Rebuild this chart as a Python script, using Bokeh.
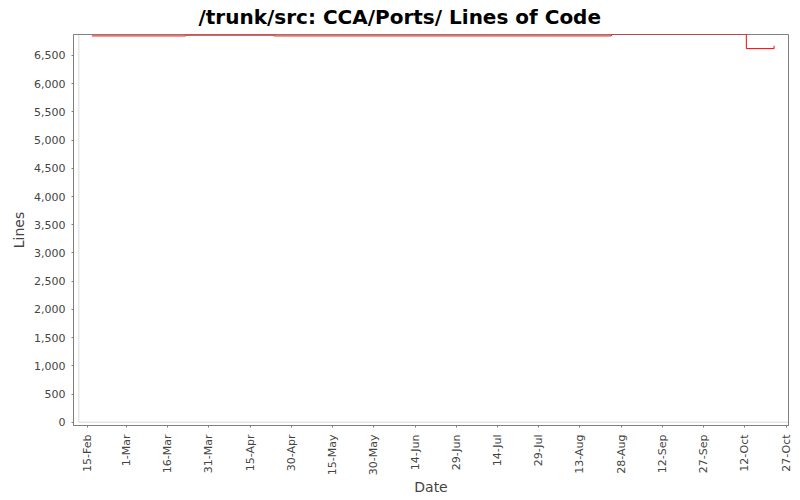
import math
import pandas as pd
from bokeh.plotting import figure
from bokeh.models import FixedTicker, NumeralTickFormatter, BoxAnnotation, Range1d
from bokeh.embed import file_html
from bokeh.resources import INLINE

# ---- data ----
commit_dates = ["2006-02-16 11:00", "2006-03-22 14:00", "2006-04-23 19:00",
                "2006-08-24 10:00", "2006-10-12 12:00", "2006-10-22 14:00"]
line_counts = [6847, 6860, 6847, 6872, 6622, 6672]

x_tick_dates = ["2006-02-15", "2006-03-01", "2006-03-16", "2006-03-31", "2006-04-15",
                "2006-04-30", "2006-05-15", "2006-05-30", "2006-06-14", "2006-06-29",
                "2006-07-14", "2006-07-29", "2006-08-13", "2006-08-28", "2006-09-12",
                "2006-09-27", "2006-10-12", "2006-10-27"]
x_tick_labels = ["15-Feb", "1-Mar", "16-Mar", "31-Mar", "15-Apr", "30-Apr", "15-May",
                 "30-May", "14-Jun", "29-Jun", "14-Jul", "29-Jul", "13-Aug", "28-Aug",
                 "12-Sep", "27-Sep", "12-Oct", "27-Oct"]
y_ticks = [0, 500, 1000, 1500, 2000, 2500, 3000, 3500, 4000, 4500, 5000, 5500, 6000, 6500]

x_start, x_end = "2006-02-09 19:00", "2006-10-27 20:00"
plot_left = "2006-02-11 17:30"
y_start, y_end = -58, 6872


def ms(s):
    return int(pd.Timestamp(s).value // 10**6)


GREY = "#808080"
TEXT = "#444444"

p = figure(width=800, height=500, output_backend="svg", toolbar_location=None,
           x_axis_type="datetime",
           x_range=Range1d(ms(x_start), ms(x_end)),
           y_range=Range1d(y_start, y_end),
           title="/trunk/src: CCA/Ports/ Lines of Code",
           min_border_left=73, min_border_right=12, min_border_top=33, min_border_bottom=75)

p.background_fill_color = "white"
p.border_fill_color = "white"
p.outline_line_color = GREY
p.outline_line_width = 1
p.grid.visible = False

p.title.align = "left"
p.title.offset = 125
p.title.vertical_align = "top"
p.title.standoff = 8
p.title.text_font = "DejaVu Sans"
p.title.text_font_size = "20px"
p.title.text_font_style = "bold"
p.title.text_color = "black"

# inner plot border (axes are offset from it as in the reference)
p.add_layout(BoxAnnotation(left=ms(plot_left), bottom=0, fill_alpha=0,
                           line_color=GREY, line_width=1))

xs = pd.to_datetime(commit_dates)
p.step(xs, line_counts, mode="after", line_color="#ff0000", line_width=1)

# axes
p.xaxis.ticker = FixedTicker(ticks=[ms(d) for d in x_tick_dates])
p.xaxis.major_label_overrides = {ms(d): lab for d, lab in zip(x_tick_dates, x_tick_labels)}
p.xaxis.major_label_orientation = math.pi / 2
p.yaxis.ticker = FixedTicker(ticks=y_ticks)
p.yaxis.formatter = NumeralTickFormatter(format="0,0")

p.xaxis.axis_label = "Date"
p.yaxis.axis_label = "Lines"

for ax in (p.xaxis, p.yaxis):
    ax.axis_line_color = GREY
    ax.major_tick_line_color = GREY
    ax.minor_tick_line_color = None
    ax.major_tick_out = 2
    ax.major_tick_in = 0
    ax.major_label_text_font = "DejaVu Sans"
    ax.major_label_text_font_size = "11px"
    ax.major_label_text_color = TEXT
    ax.axis_label_text_font = "DejaVu Sans"
    ax.axis_label_text_font_size = "14px"
    ax.axis_label_text_font_style = "normal"
    ax.axis_label_text_color = TEXT

p.xaxis.major_label_standoff = 7
p.xaxis.axis_label_standoff = 1
p.yaxis.major_label_standoff = 6
p.yaxis.axis_label_standoff = 4

open("out.html", "w").write(file_html(p, INLINE))
